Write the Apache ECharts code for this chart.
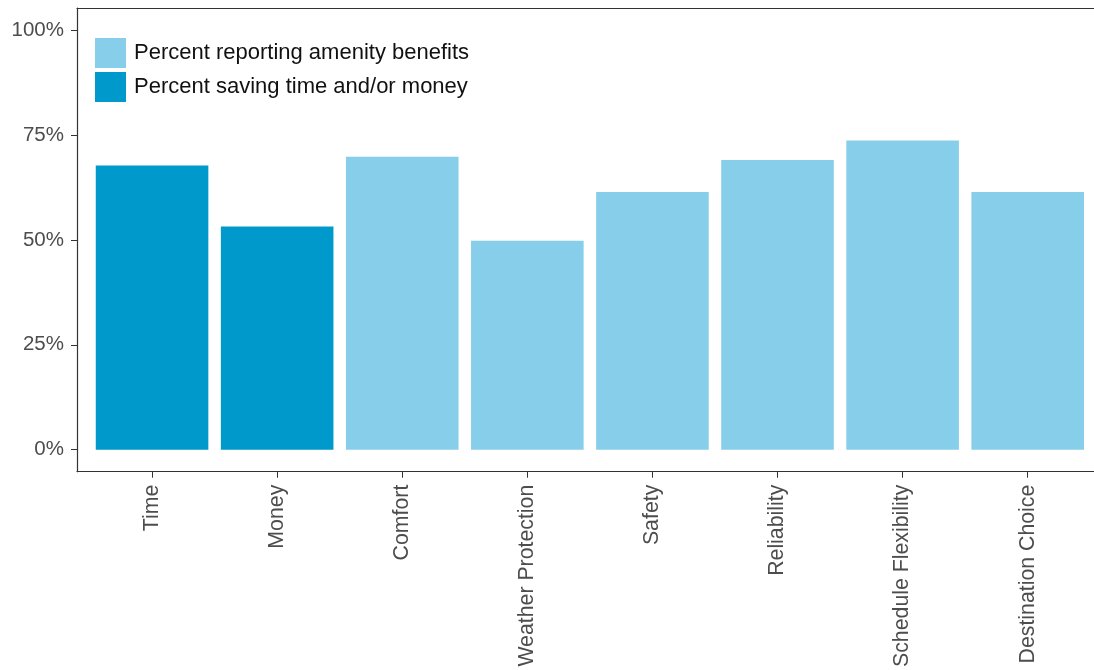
<!DOCTYPE html>
<html>
<head>
<meta charset="utf-8">
<script src="https://cdn.jsdelivr.net/npm/echarts@6/dist/echarts.min.js"></script>
<style>
  html, body { margin: 0; padding: 0; background: #fff; }
  #chart { width: 1094px; height: 670px; }
</style>
</head>
<body>
<div id="chart"></div>
<script>
const categories = ['Time', 'Money', 'Comfort', 'Weather Protection', 'Safety', 'Reliability', 'Schedule Flexibility', 'Destination Choice'];
const amenityValues = [null, null, 69.8, 49.8, 61.4, 69.0, 73.7, 61.4];
const savingValues = [67.7, 53.2, null, null, null, null, null, null];
const yTicks = [0, 25, 50, 75, 100];

const chart = echarts.init(document.getElementById('chart'));

// value axis on x so the outer padding matches the original (0.6 of a slot on the left,
// the right side runs off the picture)
function toPoints(values) {
    return values.map((v, i) => v == null ? null : [i, v]);
}
const catIdx = categories.map((c, i) => i);

const option = {
    animation: false,
    textStyle: { fontFamily: 'Liberation Sans, Arial, sans-serif' },
    grid: { left: 77, top: 8, right: 0, bottom: 198 },
    legend: {
        orient: 'vertical',
        left: 95, top: 38, padding: 0,
        itemWidth: 31, itemHeight: 30, itemGap: 4,
        icon: 'rect',
        textStyle: { fontSize: 22, color: '#111', padding: [6, 0, 0, 3] },
        data: ['Percent reporting amenity benefits', 'Percent saving time and/or money']
    },
    xAxis: [
        {
            type: 'value',
            min: -0.6, max: 7.53,
            splitLine: { show: false },
            axisLine: { show: true, onZero: false, lineStyle: { color: '#333', width: 1.2 } },
            axisTick: { show: true, length: 6, customValues: catIdx, lineStyle: { color: '#333' } },
            axisLabel: {
                rotate: 90, margin: 13, fontSize: 21.3, color: '#4d4d4d',
                customValues: catIdx,
                formatter: v => categories[Math.round(v)]
            }
        },
        {
            // top border line only
            type: 'value', position: 'top',
            min: -0.6, max: 7.53,
            splitLine: { show: false },
            axisLine: { show: true, onZero: false, lineStyle: { color: '#333', width: 1.2 } },
            axisTick: { show: false },
            axisLabel: { show: false }
        }
    ],
    yAxis: {
        type: 'value',
        min: -5.24, max: 105.24,
        splitLine: { show: false },
        axisLine: { show: true, onZero: false, lineStyle: { color: '#333', width: 1.2 } },
        axisTick: { show: true, length: 6, customValues: yTicks, lineStyle: { color: '#333' } },
        axisLabel: {
            margin: 13, fontSize: 20.5, color: '#4d4d4d',
            customValues: yTicks,
            formatter: v => v + '%'
        }
    },
    series: [
        {
            name: 'Percent reporting amenity benefits',
            type: 'bar',
            barWidth: 112.6,
            barGap: '-100%',
            itemStyle: { color: '#87ceeb' },
            data: toPoints(amenityValues)
        },
        {
            name: 'Percent saving time and/or money',
            type: 'bar',
            barWidth: 112.6,
            barGap: '-100%',
            itemStyle: { color: '#0099cc' },
            data: toPoints(savingValues)
        }
    ]
};

chart.setOption(option);
</script>
</body>
</html>
